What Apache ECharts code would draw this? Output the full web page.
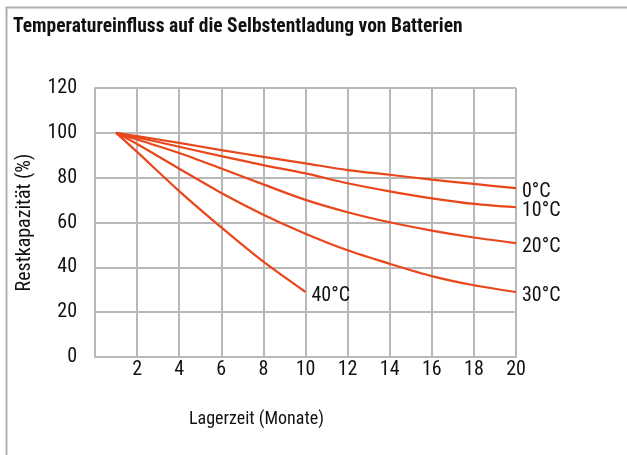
<!DOCTYPE html>
<html>
<head>
<meta charset="utf-8">
<title>Temperatureinfluss auf die Selbstentladung von Batterien</title>
<script src="https://cdn.jsdelivr.net/npm/echarts@6/dist/echarts.min.js"></script>
<style>
  html, body { margin: 0; padding: 0; background: #fff; }
  #chart { width: 627px; height: 455px; }
</style>
</head>
<body>
<div id="chart"></div>
<script>
// Selbstentladung: Restkapazität (%) über Lagerzeit (Monate), je Temperatur.
var TITLE = "Temperatureinfluss auf die Selbstentladung von Batterien";
var X_NAME = "Lagerzeit (Monate)";
var Y_NAME = "Restkapazität (%)";

var MONTHS = [1, 2, 4, 6, 8, 10, 12, 14, 16, 18, 20];
var MONTHS_40 = [1, 2, 4, 6, 8, 10];

var T0  = [100, 98.5, 95.5, 92.3, 89.3, 86.4, 83.4, 81.3, 79.1, 77.2, 75.3];
var T10 = [100, 98, 93.8, 89.6, 85.6, 81.9, 77.5, 73.9, 70.8, 68.3, 66.8];
var T20 = [100, 97, 91, 84.1, 77, 70.1, 64.6, 60.1, 56.4, 53.3, 50.8];
var T30 = [100, 95, 84, 73.2, 63.5, 55, 47.6, 41.6, 36.1, 32, 29];
var T40 = [100, 91.5, 74, 57.8, 42.5, 29];

var LINE_COLOR = "#e9471b";
var GRID_COLOR = "#b8b8b8";
var FONT = "'Roboto Condensed', Roboto, sans-serif";

function seriesOf(name, xs, ys) {
  return {
    name: name, type: "line", smooth: 0.3, symbol: "none",
    lineStyle: { color: LINE_COLOR, width: 2.2 },
    endLabel: {
      show: true, formatter: name, distance: 6, offset: [0, 4],
      color: "#111", fontFamily: FONT, fontSize: 20
    },
    data: ys.map(function (v, i) { return [xs[i], v]; })
  };
}

var chart = echarts.init(document.getElementById("chart"));
chart.setOption({
  animation: false,
  textStyle: { fontFamily: FONT },
  title: {
    text: TITLE, left: 13, top: 17, padding: 0,
    textStyle: { fontFamily: FONT, fontWeight: "bold", fontSize: 19.5, color: "#111" }
  },
  graphic: [
    {
      type: "rect", left: 4, top: 5, silent: true,
      shape: { width: 700, height: 520 },
      style: { fill: "none", stroke: "#b0b0b0", lineWidth: 2 }
    },
    {
      type: "text", left: 189, top: 410, silent: true,
      style: { text: X_NAME, fontFamily: FONT, fontSize: 18, fill: "#111" }
    }
  ],
  grid: { left: 95, right: 111, top: 88, bottom: 98 },
  xAxis: {
    type: "value", min: 0, max: 20, interval: 2,
    axisLine: { show: true, lineStyle: { color: GRID_COLOR, width: 2 } },
    axisTick: { show: false },
    splitLine: { show: true, lineStyle: { color: GRID_COLOR, width: 2 } },
    axisLabel: { showMinLabel: false, margin: 3, fontSize: 20, color: "#111", fontFamily: FONT }
  },
  yAxis: {
    type: "value", min: 0, max: 120, interval: 20,
    name: Y_NAME, nameLocation: "middle", nameGap: 60, nameRotate: 90,
    nameTextStyle: { fontSize: 20, color: "#111", fontFamily: FONT },
    axisLine: { show: true, lineStyle: { color: GRID_COLOR, width: 2 } },
    axisTick: { show: false },
    splitLine: { show: true, lineStyle: { color: GRID_COLOR, width: 2 } },
    axisLabel: { margin: 18, fontSize: 20, color: "#111", fontFamily: FONT }
  },
  series: [
    seriesOf("0°C", MONTHS, T0),
    seriesOf("10°C", MONTHS, T10),
    seriesOf("20°C", MONTHS, T20),
    seriesOf("30°C", MONTHS, T30),
    seriesOf("40°C", MONTHS_40, T40)
  ]
});
</script>
</body>
</html>
